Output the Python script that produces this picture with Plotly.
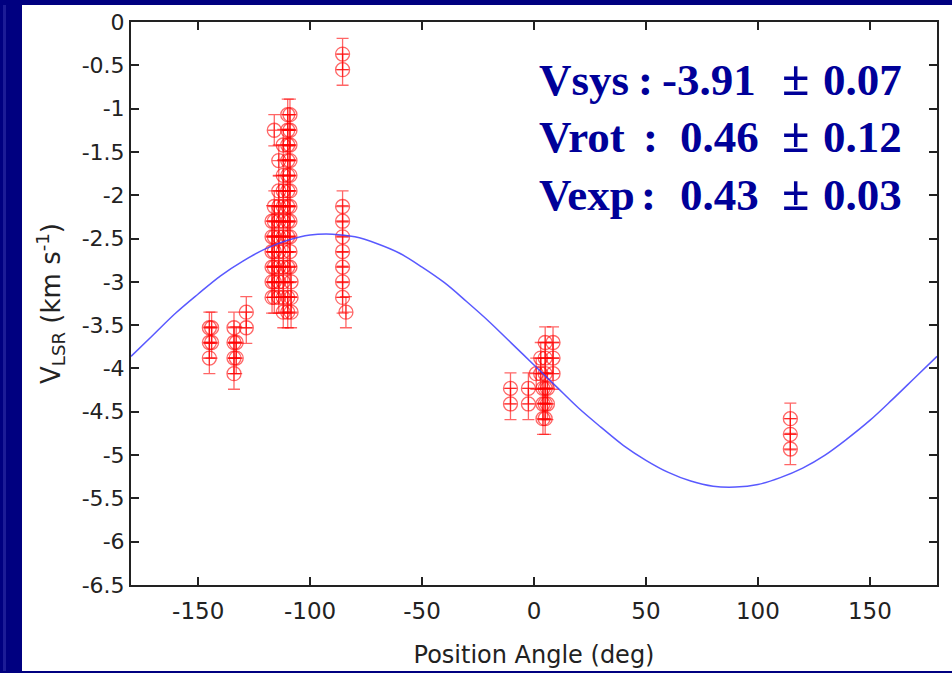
import plotly.graph_objects as go

# ---------------- data ----------------
angle_deg = [
    -145, -145, -145, -144, -144,
    -134, -134, -134, -134, -133, -133,
    -128.5, -128.5,
    -117, -117, -117, -117, -117, -117,
    -116, -116, -116, -116, -116, -116, -116, -116,
    -114, -114, -114, -114, -114, -114, -114, -114, -114,
    -112, -112, -112, -112, -112, -112, -112, -112, -112, -112, -112,
    -110, -110, -110, -110, -110, -110, -110, -110, -110, -110, -110, -110,
    -109, -109, -109, -109, -109, -109, -109, -109, -109, -109, -109, -108.5, -108.5, -108.5,
    -85.5, -85.5, -85.5, -85.5, -85.5, -85.5, -85.5, -85.5, -85.5, -84,
    -10.5, -10.5, -2.5, -2.5,
    1, 3, 3, 4, 4, 4, 5, 5, 5, 5, 5, 5, 6, 6, 8.5, 8.5, 8.5,
    114.5, 114.5, 114.5,
]
v_lsr = [
    -3.53, -3.70, -3.88, -3.53, -3.70,
    -3.53, -3.70, -3.88, -4.06, -3.70, -3.88,
    -3.35, -3.53,
    -2.30, -2.48, -2.65, -2.83, -3.00, -3.18,
    -1.25, -2.13, -2.30, -2.48, -2.65, -2.83, -3.00, -3.18,
    -1.60, -1.95, -2.13, -2.30, -2.48, -2.65, -2.83, -3.00, -3.18,
    -1.42, -1.77, -1.95, -2.13, -2.30, -2.48, -2.65, -2.83, -3.00, -3.18, -3.35,
    -1.07, -1.25, -1.42, -1.60, -1.77, -1.95, -2.13, -2.30, -2.48, -2.83, -3.18, -3.35,
    -1.07, -1.25, -1.42, -1.60, -1.77, -1.95, -2.13, -2.30, -2.48, -2.65, -2.83, -3.00, -3.18, -3.35,
    -0.37, -0.55, -2.13, -2.30, -2.48, -2.65, -2.83, -3.00, -3.18, -3.35,
    -4.23, -4.41, -4.23, -4.41,
    -4.06, -3.88, -4.06, -4.23, -4.41, -4.58, -3.70, -3.88, -4.06, -4.23, -4.41, -4.58, -4.23, -4.41, -3.70, -3.88, -4.06,
    -4.58, -4.76, -4.93,
]
v_err = 0.18

model_angle = [-180, -170, -160, -150, -140, -130, -120, -110, -100, -90, -80, -70, -60,
               -50, -40, -30, -20, -10, 0, 10, 20, 30, 40, 50, 60, 70, 80, 90, 100,
               110, 120, 130, 140, 150, 160, 170, 180]
model_v = [-3.86, -3.61, -3.36, -3.14, -2.93, -2.76, -2.62, -2.52, -2.46, -2.45, -2.48, -2.56, -2.67,
           -2.83, -3.01, -3.23, -3.46, -3.71, -3.96, -4.21, -4.46, -4.68, -4.89, -5.06, -5.20, -5.30,
           -5.36, -5.37, -5.34, -5.26, -5.15, -5.00, -4.81, -4.60, -4.36, -4.11, -3.86]

x_ticks = [-150, -100, -50, 0, 50, 100, 150]
x_tick_text = ["-150", "-100", "-50", "0", "50", "100", "150"]
y_ticks = [0, -0.5, -1, -1.5, -2, -2.5, -3, -3.5, -4, -4.5, -5, -5.5, -6, -6.5]
y_tick_text = ["0", "-0.5", "-1", "-1.5", "-2", "-2.5", "-3", "-3.5", "-4", "-4.5",
               "-5", "-5.5", "-6", "-6.5"]

fit_labels = ["Vsys", "Vrot", "Vexp"]
fit_values = ["-3.91", "0.46", "0.43"]
fit_errors = ["0.07", "0.12", "0.03"]

# ---------------- layout geometry ----------------
W, H = 952, 673
L, R, T, B = 131, 15, 22, 88
PW, PH = W - L - R, H - T - B


def px(xp):
    return (xp - L) / PW


def py(yp):
    return (H - B - yp) / PH


NAVY = "#000080"
TXT_NAVY = "#000099"
AX = "#222222"

fig = go.Figure()

fig.add_trace(go.Scatter(
    x=angle_deg, y=v_lsr, mode="markers",
    marker=dict(symbol="circle-cross-open", size=14, color="rgba(255,0,0,0.6)",
                line=dict(width=1.3, color="rgba(255,0,0,0.6)")),
    error_y=dict(type="constant", value=v_err, color="rgba(255,0,0,0.6)",
                 thickness=1.3, width=6),
    showlegend=False, hoverinfo="skip",
))

fig.add_trace(go.Scatter(
    x=model_angle, y=model_v, mode="lines", line_shape="spline",
    line=dict(color="rgba(60,60,255,0.85)", width=1.5),
    showlegend=False, hoverinfo="skip",
))

axis_common = dict(
    showgrid=False, zeroline=False, showline=True, linewidth=2, linecolor=AX,
    mirror="ticks", ticks="inside", ticklen=8, tickwidth=1.5, tickcolor=AX,
)

fig.update_xaxes(
    range=[-180, 180], tickmode="array", tickvals=x_ticks, ticktext=x_tick_text,
    tickfont=dict(family="DejaVu Sans", size=23, color=AX), ticklabelstandoff=4,
    title=dict(text="Position Angle (deg)", font=dict(family="DejaVu Sans", size=24, color=AX),
               standoff=24),
    **axis_common,
)
fig.update_yaxes(
    range=[-6.5, 0], tickmode="array", tickvals=y_ticks, ticktext=y_tick_text,
    tickfont=dict(family="DejaVu Sans", size=22, color=AX),
    title=dict(text="V<sub>LSR</sub> (km s<sup>-1</sup>)",
               font=dict(family="DejaVu Sans", size=26, color=AX), standoff=14),
    **axis_common,
)

shapes = [
    # navy frame: left band, top band, bottom band
    dict(type="rect", xref="paper", yref="paper", x0=px(0), x1=px(22), y0=py(H), y1=py(0),
         fillcolor=NAVY, line_width=0, layer="above"),
    dict(type="rect", xref="paper", yref="paper", x0=px(3), x1=px(6), y0=py(H), y1=py(0),
         fillcolor="#1c1c96", line_width=0, layer="above"),
    dict(type="rect", xref="paper", yref="paper", x0=px(0), x1=px(W), y0=py(5), y1=py(0),
         fillcolor=NAVY, line_width=0, layer="above"),
    dict(type="rect", xref="paper", yref="paper", x0=px(0), x1=px(W), y0=py(H), y1=py(671),
         fillcolor=NAVY, line_width=0, layer="above"),
]

annotations = []
line_y = [80, 137, 195]
colon_x = [645, 650, 648]
value_x = [660, 678, 678]
font_big = dict(family="Liberation Serif", size=45, color=TXT_NAVY)
font_pm = dict(family="Liberation Serif", size=50, color=TXT_NAVY)
for lab, val, err, yy, cx, vx in zip(fit_labels, fit_values, fit_errors, line_y, colon_x, value_x):
    pieces = [(lab, 537, "left", font_big, 0), (":", cx, "center", font_big, 0),
              (val, vx, "left", font_big, 0), ("\u00b1", 795, "center", font_pm, -2),
              (err, 821, "left", font_big, 0)]
    for text, xx, anchor, fnt, dy in pieces:
        annotations.append(dict(
            text="<b>%s</b>" % text, xref="paper", yref="paper", x=px(xx), y=py(yy + dy),
            xanchor=anchor, yanchor="middle", showarrow=False, font=fnt,
        ))

fig.update_layout(
    width=W, height=H, margin=dict(l=L, r=R, t=T, b=B, autoexpand=False),
    paper_bgcolor="white", plot_bgcolor="white",
    shapes=shapes, annotations=annotations,
)

fig.write_html("out.html")
